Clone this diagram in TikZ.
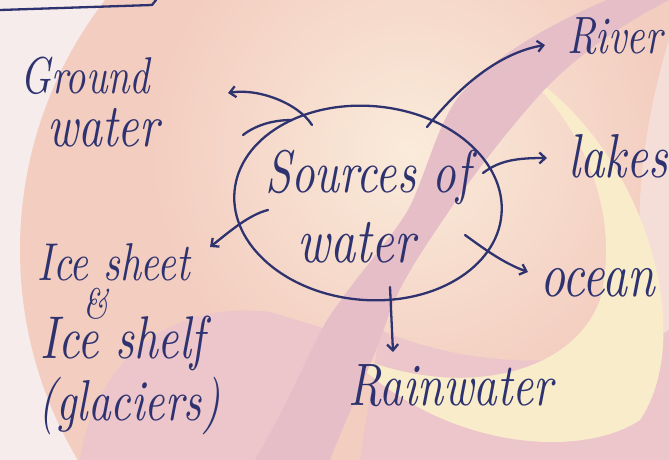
\documentclass[tikz,border=0pt]{standalone}
\usetikzlibrary{arrows.meta,shapes.geometric,calc}
\definecolor{ink}{HTML}{2E3370}
\definecolor{bgwhite}{HTML}{F7ECEC}
\definecolor{salmon}{HTML}{F3CDC0}
\definecolor{cream}{HTML}{FAEBDA}
\definecolor{mauve}{HTML}{E6BEC8}
\definecolor{yelo}{HTML}{F8ECCB}
\definecolor{pinkb}{HTML}{ECC6CA}
\definecolor{lightpink}{HTML}{F5DED8}
\newcommand\hwt[2]{\scalebox{1}[1.3]{\resizebox{#1pt}{!}{\itshape #2}}}
\newcommand\hwline[4]{\rlap{\hspace*{#1pt}\raisebox{#2pt}{\hwt{#3}{#4}}}}
\begin{document}
\begin{tikzpicture}[x=1pt,y=-1pt,
  hw/.style={text=ink, inner sep=0pt, anchor=base west},
  pen/.style={draw=ink, line width=2.3pt, line cap=round, line join=round},
  arr/.style={pen, -{Straight Barb[length=6pt,width=11pt,line width=2.3pt]}}]
\useasboundingbox (0,0) rectangle (669,460);
% ---- background watermark ----
\begin{scope}
\clip (0,0) rectangle (669,460);
\fill[bgwhite] (0,0) rectangle (669,460);
\fill[salmon] (430,250) circle (410);
\shade[inner color=cream, outer color=salmon] (410,150) circle (260);
\fill[lightpink] (669,40) .. controls (620,200) and (640,330) .. (669,380) -- cycle;
\fill[pinkb] (80,460) .. controls (95,360) and (170,300) .. (270,312) -- (330,330) -- (310,460) -- cycle;
\fill[pinkb] (380,330) .. controls (500,380) and (620,360) .. (669,330) -- (669,460) -- (360,460) -- cycle;
\fill[yelo] (517,67) .. controls (640,140) and (700,330) .. (640,420)
  .. controls (580,460) and (440,450) .. (345,352)
  .. controls (450,400) and (570,380) .. (600,300)
  .. controls (620,220) and (590,130) .. (517,67) -- cycle;
\fill[mauve] (255,460) .. controls (290,400) and (310,350) .. (327,320)
  .. controls (360,270) and (400,230) .. (413,200)
  .. controls (430,160) and (440,120) .. (460,95)
  .. controls (500,50) and (560,20) .. (607,0) -- (669,0)
  .. controls (620,25) and (570,60) .. (535,100)
  .. controls (500,140) and (470,180) .. (453,205)
  .. controls (430,240) and (400,280) .. (387,320)
  .. controls (370,370) and (345,420) .. (330,460) -- cycle;
\end{scope}
% ---- heading underline ----
\coordinate (ulA) at (0,10);
\coordinate (ulB) at (152,5);
\coordinate (ulC) at (156,0);
\draw[pen] (ulA) -- (ulB) -- (ulC);
% ---- central ellipse ----
\node[ellipse, pen, minimum width=268pt, minimum height=194pt, rotate=-5] (src) at (368,203) {};
\draw[pen] ([shift={(-125,-68)}]src.center) .. controls ([shift={(-112,-78)}]src.center) and ([shift={(-95,-83)}]src.center) .. ([shift={(-76,-83)}]src.center);
\node[hw] (srcText) at (265,262) {\hwline{0}{70}{205}{Sources of}\hspace*{32pt}\hwt{118}{water}};
% ---- labels ----
\node[hw] (gw) at (20,146) {\hwline{0}{52}{130}{Ground}\hspace*{27pt}\hwt{112}{water}};
\node[hw] (river) at (567,53) {\hwt{95}{River}};
\node[hw] (lakes) at (568,177) {\hwt{100}{lakes}};
\node[hw] (ocean) at (540,296) {\hwt{115}{ocean}};
\node[hw] (rain) at (348,405) {\hwt{205}{Rainwater}};
\node[hw] (ice) at (38,420) {\hwline{-1}{140}{153}{Ice sheet}\hwline{45}{102}{25}{\&}\hwline{2}{62}{165}{Ice shelf}\hwt{182}{(glaciers)}};
% ---- arrow ends ----
\coordinate (gwTip) at (228,93);
\coordinate (iceTip) at (210,247);
% ---- connectors ----
\draw[arr] ([shift={(-56,-78)}]src.center) .. controls ([shift={(-70,-100)}]src.center) and ([shift={(-110,-115)}]src.center) .. (gwTip);
\draw[arr] ([shift={(59,-76)}]src.center) .. controls ([shift={(90,-115)}]src.center) and ([shift={(130,-150)}]src.center) .. ([shift={(-22,-8)}]river.base west);
\draw[arr] ([shift={(115,-30)}]src.center) .. controls ([shift={(132,-43)}]src.center) and ([shift={(150,-45)}]src.center) .. ([shift={(-21,-19)}]lakes.base west);
\draw[arr] ([shift={(-100,7)}]src.center) .. controls ([shift={(-120,12)}]src.center) and ([shift={(-140,30)}]src.center) .. (iceTip);
\draw[arr] ([shift={(97,32)}]src.center) .. controls ([shift={(115,45)}]src.center) and ([shift={(135,60)}]src.center) .. ([shift={(-12,-24)}]ocean.base west);
\draw[arr] ([shift={(22,84)}]src.center) -- ([shift={(45,-53)}]rain.base west);
\end{tikzpicture}
\end{document}
